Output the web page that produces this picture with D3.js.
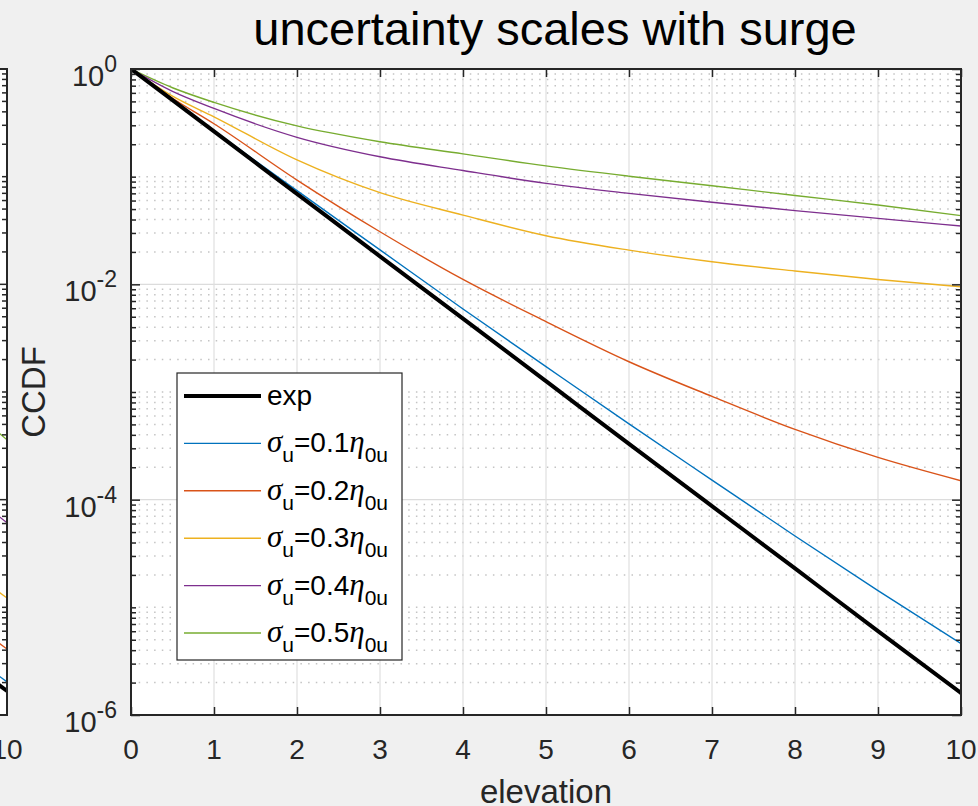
<!DOCTYPE html>
<html>
<head>
<meta charset="utf-8">
<script src="https://cdn.jsdelivr.net/npm/d3@7"></script>
<style>
  body { margin: 0; background: #f0f0f0; }
  svg { display: block; }
  text { font-family: "Liberation Sans", Arial, sans-serif; fill: #262626; }
</style>
</head>
<body>
<div id="chart"></div>
<script>
// values
const elevation = [0, 0.5, 1, 2, 3, 4, 5, 6, 7, 8, 9, 10];
const ccdfExp = [1, 0.513, 0.263, 0.0692, 0.0182, 4.8e-3, 1.26e-3, 3.3e-4, 8.7e-5, 2.3e-5, 6.0e-6, 1.6e-6];
const ccdf01 = [1, 0.515, 0.266, 0.0741, 0.0209, 5.9e-3, 1.72e-3, 5.05e-4, 1.52e-4, 4.6e-5, 1.43e-5, 4.6e-6];
const ccdf02 = [1, 0.535, 0.31, 0.093, 0.0308, 0.0111, 4.5e-3, 1.91e-3, 9.1e-4, 4.5e-4, 2.47e-4, 1.5e-4];
const ccdf03 = [1, 0.56, 0.36, 0.143, 0.071, 0.044, 0.0283, 0.0208, 0.0162, 0.0133, 0.0111, 0.0095];
const ccdf04 = [1, 0.62, 0.43, 0.232, 0.153, 0.114, 0.0867, 0.07, 0.0578, 0.0484, 0.041, 0.0348];
const ccdf05 = [1, 0.67, 0.49, 0.296, 0.211, 0.163, 0.126, 0.101, 0.0824, 0.0668, 0.0546, 0.0435];

// neighbouring subplot, only its last bit is visible at the left edge
const leftElevation = [9, 10];
const leftExp = [6.3e-6, 1.67e-6];
const left01 = [7.6e-6, 2.03e-6];
const left02 = [1.5e-5, 4.1e-6];
const left03 = [4.5e-5, 1.22e-5];
const left04 = [2.5e-4, 6.1e-5];
const left05 = [1.6e-3, 3.6e-4];

const sigmaLabels = ["0.1", "0.2", "0.3", "0.4", "0.5"];
const xTicks = [0, 1, 2, 3, 4, 5, 6, 7, 8, 9, 10];
const yTickExp = [0, -2, -4, -6];

const colors = ["#000000", "#0072BD", "#D95319", "#EDB120", "#7E2F8E", "#77AC30"];
const series = [ccdfExp, ccdf01, ccdf02, ccdf03, ccdf04, ccdf05];
const leftSeries = [leftExp, left01, left02, left03, left04, left05];

const width = 978, height = 806;
const x0 = 131, x1 = 961, y0 = 69, y1 = 715;

const svg = d3.select("#chart").append("svg")
    .attr("width", width)
    .attr("height", height)
    .style("background", "#f0f0f0");

const x = d3.scaleLinear().domain([0, 10]).range([x0, x1]);
const y = d3.scaleLog().domain([1e-6, 1]).range([y1, y0]);
const xLeft = d3.scaleLinear().domain([0, 10]).range([7 - (x1 - x0), 7]);

const minorVals = [];
for (let k = -6; k < 0; k++) {
    for (let m = 1; m <= 9; m++) {
        const v = m * Math.pow(10, k);
        if (m === 1 && k % 2 === 0) continue;
        minorVals.push(v);
    }
}
const majorVals = yTickExp.map((e) => Math.pow(10, e));

const defs = svg.append("defs");
defs.append("clipPath").attr("id", "clipMain")
    .append("rect").attr("x", x0).attr("y", y0).attr("width", x1 - x0).attr("height", y1 - y0);
defs.append("clipPath").attr("id", "clipLeft")
    .append("rect").attr("x", 0).attr("y", y0).attr("width", 7).attr("height", y1 - y0);

// ---- left subplot fragment ----
svg.append("rect").attr("x", 0).attr("y", y0).attr("width", 7).attr("height", y1 - y0).attr("fill", "#fff");

const lineLeft = d3.line()
    .x((d, i) => xLeft(leftElevation[i]))
    .y((d) => y(d));

svg.append("g").attr("clip-path", "url(#clipLeft)")
    .selectAll("path")
    .data(leftSeries.slice().reverse())
    .enter()
    .append("path")
    .attr("d", (d) => lineLeft(d))
    .attr("fill", "none")
    .attr("stroke", (d, i) => colors[colors.length - 1 - i])
    .attr("stroke-width", (d, i) => (i === leftSeries.length - 1 ? 4 : 1.3));

const leftTicks = svg.append("g");
leftTicks.selectAll("line.maj").data(majorVals).enter().append("line")
    .attr("x1", 7).attr("x2", 0).attr("y1", (d) => y(d)).attr("y2", (d) => y(d))
    .attr("stroke", "#262626").attr("stroke-width", 1.5);
leftTicks.selectAll("line.min").data(minorVals).enter().append("line")
    .attr("x1", 7).attr("x2", 2).attr("y1", (d) => y(d)).attr("y2", (d) => y(d))
    .attr("stroke", "#262626").attr("stroke-width", 1.5);
svg.append("path")
    .attr("d", `M0,${y0}H7V${y1}H0`)
    .attr("fill", "none").attr("stroke", "#262626").attr("stroke-width", 2);
svg.append("text").attr("x", xLeft(10)).attr("y", y1 + 44)
    .attr("text-anchor", "middle").style("font-size", "28px").text("10");

// ---- main axes ----
svg.append("rect").attr("x", x0).attr("y", y0).attr("width", x1 - x0).attr("height", y1 - y0).attr("fill", "#fff");

const grid = svg.append("g");
grid.selectAll("line.ymin").data(minorVals).enter().append("line")
    .attr("x1", x0).attr("x2", x1).attr("y1", (d) => y(d)).attr("y2", (d) => y(d))
    .attr("stroke", "#c4c4c4").attr("stroke-width", 1.5).attr("stroke-dasharray", "1.5,6.2");
grid.selectAll("line.ymaj").data(majorVals.slice(1, 3)).enter().append("line")
    .attr("x1", x0).attr("x2", x1).attr("y1", (d) => y(d)).attr("y2", (d) => y(d))
    .attr("stroke", "#dcdcdc").attr("stroke-width", 1.2);
grid.selectAll("line.xmaj").data(xTicks.slice(1, -1)).enter().append("line")
    .attr("x1", (d) => x(d)).attr("x2", (d) => x(d)).attr("y1", y0).attr("y2", y1)
    .attr("stroke", "#e0e0e0").attr("stroke-width", 1.2);

const line = d3.line()
    .x((d, i) => x(elevation[i]))
    .y((d) => y(d))
    .curve(d3.curveMonotoneX);

svg.append("g").attr("clip-path", "url(#clipMain)")
    .selectAll("path")
    .data(series.slice().reverse())
    .enter()
    .append("path")
    .attr("d", (d) => line(d))
    .attr("fill", "none")
    .attr("stroke", (d, i) => colors[colors.length - 1 - i])
    .attr("stroke-width", (d, i) => (i === series.length - 1 ? 4 : 1.4));

// ticks (inside, on all four sides)
function styleAxis(g) {
    g.select(".domain").remove();
    g.selectAll(".tick line").attr("stroke", "#262626").attr("stroke-width", 1.5);
    g.selectAll(".tick text").remove();
}
svg.append("g").attr("transform", `translate(0,${y1})`)
    .call(d3.axisBottom(x).tickValues(xTicks).tickSize(-8)).call(styleAxis);
svg.append("g").attr("transform", `translate(0,${y0})`)
    .call(d3.axisTop(x).tickValues(xTicks).tickSize(-8)).call(styleAxis);
svg.append("g").attr("transform", `translate(${x0},0)`)
    .call(d3.axisLeft(y).tickValues(majorVals).tickSize(-9)).call(styleAxis);
svg.append("g").attr("transform", `translate(${x0},0)`)
    .call(d3.axisLeft(y).tickValues(minorVals).tickSize(-5)).call(styleAxis);
svg.append("g").attr("transform", `translate(${x1},0)`)
    .call(d3.axisRight(y).tickValues(majorVals).tickSize(-9)).call(styleAxis);
svg.append("g").attr("transform", `translate(${x1},0)`)
    .call(d3.axisRight(y).tickValues(minorVals).tickSize(-5)).call(styleAxis);

svg.append("rect").attr("x", x0).attr("y", y0).attr("width", x1 - x0).attr("height", y1 - y0)
    .attr("fill", "none").attr("stroke", "#262626").attr("stroke-width", 2);

// tick labels
svg.append("g").selectAll("text").data(xTicks).enter().append("text")
    .attr("x", (d) => x(d)).attr("y", y1 + 44)
    .attr("text-anchor", "middle").style("font-size", "28px")
    .text((d) => d);

const yLab = svg.append("g").selectAll("text").data(yTickExp).enter().append("text")
    .attr("x", x0 - 14).attr("y", (d) => y(Math.pow(10, d)) + 17)
    .attr("text-anchor", "end").style("font-size", "29px");
yLab.append("tspan").text("10");
yLab.append("tspan").attr("dy", -14).style("font-size", "23px").text((d) => d);

// axis labels and title
svg.append("text").attr("x", (x0 + x1) / 2).attr("y", 803)
    .attr("text-anchor", "middle").style("font-size", "33px").text("elevation");
svg.append("text")
    .attr("transform", `translate(45,${(y0 + y1) / 2}) rotate(-90)`)
    .attr("text-anchor", "middle").style("font-size", "33px").text("CCDF");
svg.append("text").attr("x", 555).attr("y", 45)
    .attr("text-anchor", "middle").style("font-size", "47px").style("fill", "#000")
    .text("uncertainty scales with surge");

// legend
const legend = svg.append("g");
legend.append("rect").attr("x", 177).attr("y", 373).attr("width", 225).attr("height", 287)
    .attr("fill", "#fff").attr("stroke", "#262626").attr("stroke-width", 1.2);
const rowY = (i) => 396 + i * 47.4;
legend.selectAll("line").data(colors).enter().append("line")
    .attr("x1", 184).attr("x2", 261).attr("y1", (d, i) => rowY(i)).attr("y2", (d, i) => rowY(i))
    .attr("stroke", (d) => d).attr("stroke-width", (d, i) => (i === 0 ? 4 : 1.4));
legend.append("text").attr("x", 267).attr("y", rowY(0) + 9).style("font-size", "28px").style("fill", "#000").text("exp");
const lt = legend.selectAll("text.sig").data(sigmaLabels).enter().append("text")
    .attr("x", 267).attr("y", (d, i) => rowY(i + 1) + 9)
    .style("font-size", "28px").style("fill", "#000");
lt.append("tspan").style("font-style", "italic").style("font-family", "'Liberation Serif', serif").style("font-size", "31px").text("σ");
lt.append("tspan").attr("dy", 10).style("font-size", "21px").text("u");
lt.append("tspan").attr("dy", -10).text((d) => "=" + d);
lt.append("tspan").style("font-style", "italic").style("font-family", "'Liberation Serif', serif").style("font-size", "31px").text("η");
lt.append("tspan").attr("dy", 10).style("font-size", "21px").text("0u");
</script>
</body>
</html>
